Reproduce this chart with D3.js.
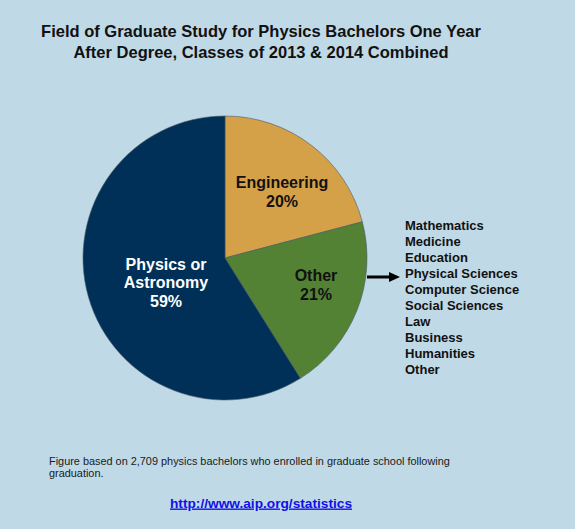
<!DOCTYPE html>
<html>
<head>
<meta charset="utf-8">
<script src="https://cdn.jsdelivr.net/npm/d3@7"></script>
<style>
  html, body { margin: 0; padding: 0; background: #c0d9e6; }
  svg { display: block; font-family: "Liberation Sans", Arial, sans-serif; }
</style>
</head>
<body>
<div id="chart"></div>
<script>
// slice shares as drawn (clockwise from 12 o'clock)
var categories = ['Engineering', 'Other', 'Physics or Astronomy'];
var shares = [20.9, 20.2, 58.9];
var pctLabels = ['20%', '21%', '59%'];
var sliceColors = ['#d4a048', '#538234', '#003057'];
var otherFields = ['Mathematics', 'Medicine', 'Education', 'Physical Sciences', 'Computer Science',
    'Social Sciences', 'Law', 'Business', 'Humanities', 'Other'];
var titleLines = ['Field of Graduate Study for Physics Bachelors One Year',
    'After Degree, Classes of 2013 & 2014 Combined'];
var noteLines = ['Figure based on 2,709 physics bachelors who enrolled in graduate school following',
    'graduation.'];

var width = 575, height = 529;
var cx = 225, cy = 258, radius = 142;

var svg = d3.select('#chart').append('svg')
    .attr('width', width)
    .attr('height', height);

svg.append('rect')
    .attr('width', width)
    .attr('height', height)
    .attr('fill', '#c0d9e6');

/**
 * title
 */
svg.selectAll('.title')
    .data(titleLines)
    .enter().append('text')
    .attr('class', 'title')
    .attr('x', 261)
    .attr('y', function (d, i) { return 37 + i * 20.6; })
    .attr('text-anchor', 'middle')
    .style('font-size', '16.5px')
    .style('font-weight', 'bold')
    .attr('fill', '#111')
    .text(function (d) { return d; });

/**
 * pie
 */
var pie = d3.pie().sort(null).value(function (d) { return d; });
var arcs = pie(shares);
var arc = d3.arc().innerRadius(0).outerRadius(radius);

var g = svg.append('g').attr('transform', 'translate(' + cx + ',' + cy + ')');

g.selectAll('path')
    .data(arcs)
    .enter().append('path')
    .attr('d', arc)
    .attr('fill', function (d, i) { return sliceColors[i]; })
    .attr('stroke', '#4a5a66')
    .attr('stroke-width', 0.6);

// label positions relative to pie centre
var labelPos = [
    {x: 57, lines: ['Engineering', pctLabels[0]], y: -70, color: '#111'},
    {x: 91, lines: ['Other', pctLabels[1]], y: 23, color: '#111'},
    {x: -59, lines: ['Physics or', 'Astronomy', pctLabels[2]], y: 11.5, color: '#fff'}
];

labelPos.forEach(function (lp) {
    g.append('text')
        .attr('text-anchor', 'middle')
        .style('font-size', '16px')
        .style('font-weight', 'bold')
        .attr('fill', lp.color)
        .selectAll('tspan')
        .data(lp.lines)
        .enter().append('tspan')
        .attr('x', lp.x)
        .attr('y', function (d, i) { return lp.y + i * 18.7; })
        .text(function (d) { return d; });
});

/**
 * arrow to the breakdown of "Other"
 */
svg.append('line')
    .attr('x1', 367)
    .attr('x2', 391)
    .attr('y1', 277)
    .attr('y2', 277)
    .attr('stroke', '#000')
    .attr('stroke-width', 3);

svg.append('path')
    .attr('d', 'M389,272 L400,277 L389,282 Z')
    .attr('fill', '#000');

var listY = d3.scaleLinear().domain([0, otherFields.length - 1]).range([230, 373.5]);

svg.selectAll('.field')
    .data(otherFields)
    .enter().append('text')
    .attr('class', 'field')
    .attr('x', 405)
    .attr('y', function (d, i) { return listY(i); })
    .style('font-size', '13px')
    .style('font-weight', 'bold')
    .attr('fill', '#111')
    .text(function (d) { return d; });

/**
 * footnote and link
 */
svg.selectAll('.note')
    .data(noteLines)
    .enter().append('text')
    .attr('class', 'note')
    .attr('x', 49)
    .attr('y', function (d, i) { return 465 + i * 12; })
    .style('font-size', '10.9px')
    .attr('fill', '#1a1a1a')
    .text(function (d) { return d; });

svg.append('text')
    .attr('x', 261)
    .attr('y', 507.5)
    .attr('text-anchor', 'middle')
    .style('font-size', '13.7px')
    .style('font-weight', 'bold')
    .style('text-decoration', 'underline')
    .attr('fill', '#1010e8')
    .text('http://www.aip.org/statistics');
</script>
</body>
</html>
